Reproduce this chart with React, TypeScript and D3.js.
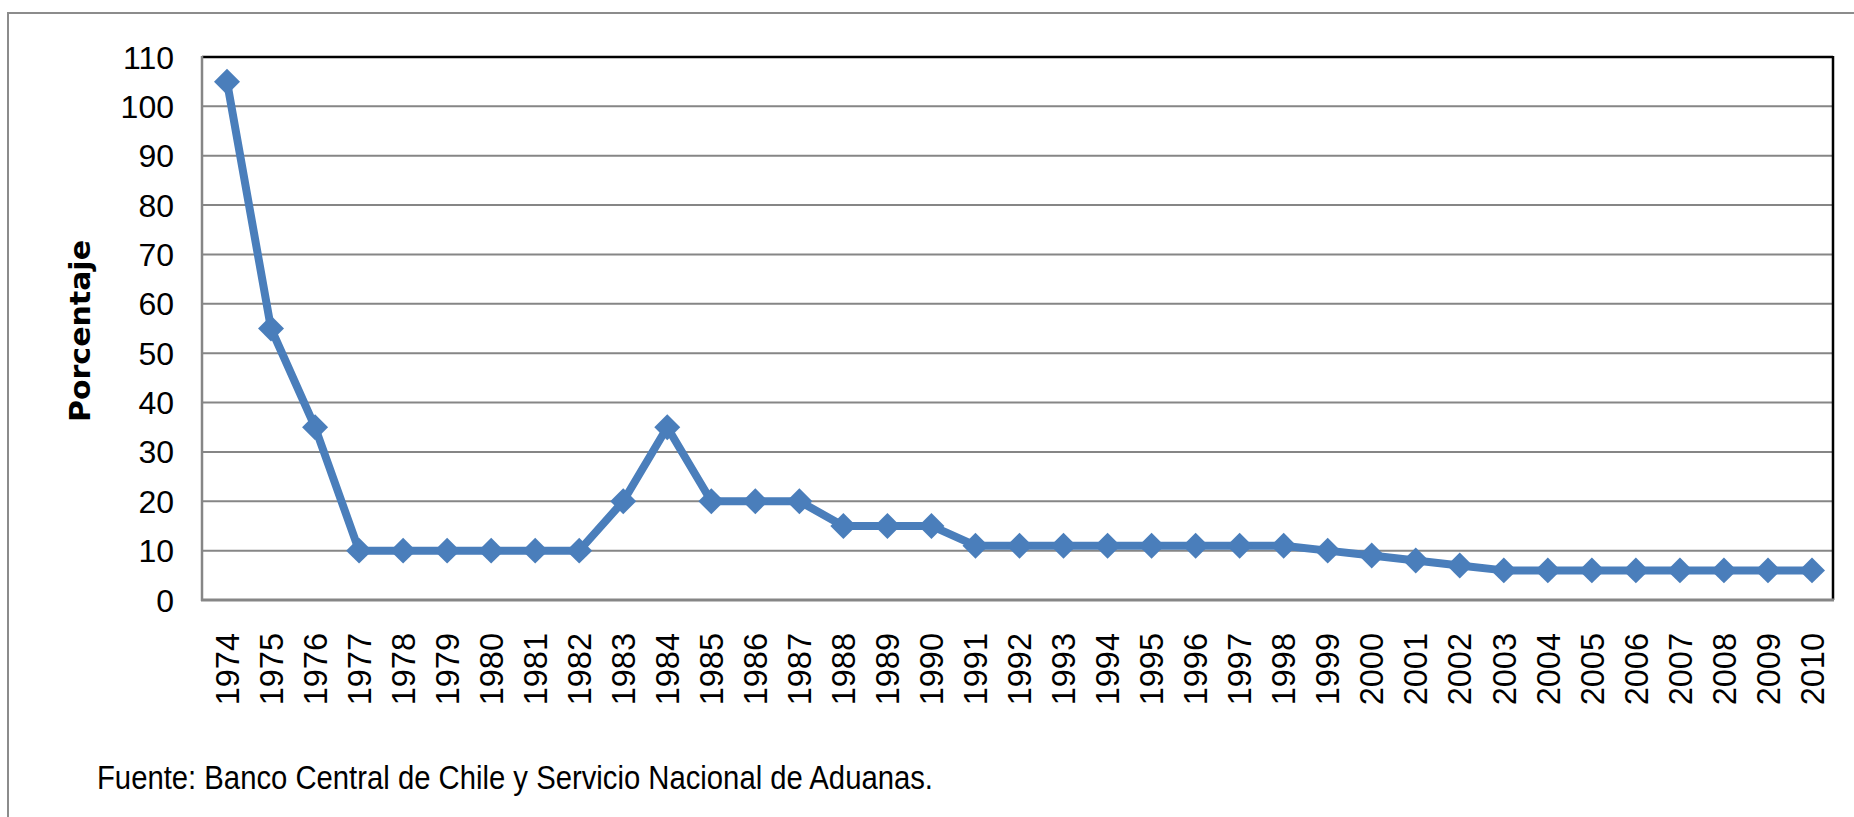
import React from "react";
import * as d3 from "d3";

const years: string[] = [
  "1974","1975","1976","1977","1978","1979","1980","1981","1982","1983",
  "1984","1985","1986","1987","1988","1989","1990","1991","1992","1993",
  "1994","1995","1996","1997","1998","1999","2000","2001","2002","2003",
  "2004","2005","2006","2007","2008","2009","2010",
];
const tariff: number[] = [
  105, 55, 35, 10, 10, 10, 10, 10, 10, 20,
  35, 20, 20, 20, 15, 15, 15, 11, 11, 11,
  11, 11, 11, 11, 11, 10, 9, 8, 7, 6,
  6, 6, 6, 6, 6, 6, 6,
];
const yTicks: number[] = [0, 10, 20, 30, 40, 50, 60, 70, 80, 90, 100, 110];
const yTitle = "Porcentaje";
const source = "Fuente: Banco Central de Chile y Servicio Nacional de Aduanas.";

const W = 1854;
const H = 817;
const plot = { left: 202, right: 1833, top: 57, bottom: 600 };

export default function App() {
  const x = d3.scalePoint<string>().domain(years).range([227, 1812]);
  const y = d3.scaleLinear().domain([0, 110]).range([plot.bottom, plot.top]);
  const line = d3
    .line<number>()
    .x((_, i) => x(years[i]) as number)
    .y((d) => y(d));
  const diamond = d3.symbol().type(d3.symbolDiamond2).size(430)();
  const blue = "#4a7ebb";
  const grid = "#868686";

  return (
    <svg
      width={W}
      height={H}
      style={{ position: "absolute", left: 0, top: 0, background: "#fff" }}
      fontFamily="'Liberation Sans', Arial, sans-serif"
    >
      <rect x={0} y={0} width={W} height={H} fill="#fff" />
      {/* outer frame */}
      <rect x={8} y={13} width={W + 20} height={H + 20} fill="none" stroke="#8c8c8c" strokeWidth={2} />

      {/* gridlines */}
      {yTicks
        .filter((t) => t > 0 && t < 110)
        .map((t) => (
          <line key={t} x1={plot.left} x2={plot.right} y1={y(t)} y2={y(t)} stroke={grid} strokeWidth={2} />
        ))}

      {/* plot border: top & right black */}
      <line x1={plot.left} x2={plot.right} y1={plot.top} y2={plot.top} stroke="#000" strokeWidth={2.5} />
      <line x1={plot.right} x2={plot.right} y1={plot.top - 1} y2={plot.bottom} stroke="#000" strokeWidth={2.5} />
      {/* axes gray */}
      <line x1={plot.left} x2={plot.left} y1={plot.top - 1} y2={plot.bottom + 1} stroke={grid} strokeWidth={2.5} />
      <line x1={plot.left - 1} x2={plot.right + 1} y1={plot.bottom} y2={plot.bottom} stroke={grid} strokeWidth={3} />

      {/* y tick labels */}
      {yTicks.map((t) => (
        <text key={t} x={174} y={y(t)} dy="0.36em" textAnchor="end" fontSize={32} fill="#000">
          {t}
        </text>
      ))}

      {/* y title */}
      <text
        transform={`translate(90, 331) rotate(-90)`}
        textAnchor="middle"
        fontFamily="'DejaVu Sans', sans-serif"
        fontWeight="bold"
        fontSize={28}
        fill="#000"
        textLength={182}
        lengthAdjust="spacingAndGlyphs"
      >
        {yTitle}
      </text>

      {/* x tick labels */}
      {years.map((yr) => (
        <text
          key={yr}
          transform={`translate(${x(yr)}, 633) rotate(-90)`}
          textAnchor="end"
          dy="0.36em"
          fontSize={32.5}
          fill="#000"
        >
          {yr}
        </text>
      ))}

      {/* series */}
      <path d={line(tariff) || ""} fill="none" stroke={blue} strokeWidth={8} strokeLinejoin="round" />
      {tariff.map((v, i) => (
        <path key={years[i]} d={diamond || ""} transform={`translate(${x(years[i])}, ${y(v)})`} fill={blue} />
      ))}

      {/* source */}
      <text x={97} y={789} fontSize={33} fill="#000" textLength={836} lengthAdjust="spacingAndGlyphs">
        {source}
      </text>
    </svg>
  );
}
